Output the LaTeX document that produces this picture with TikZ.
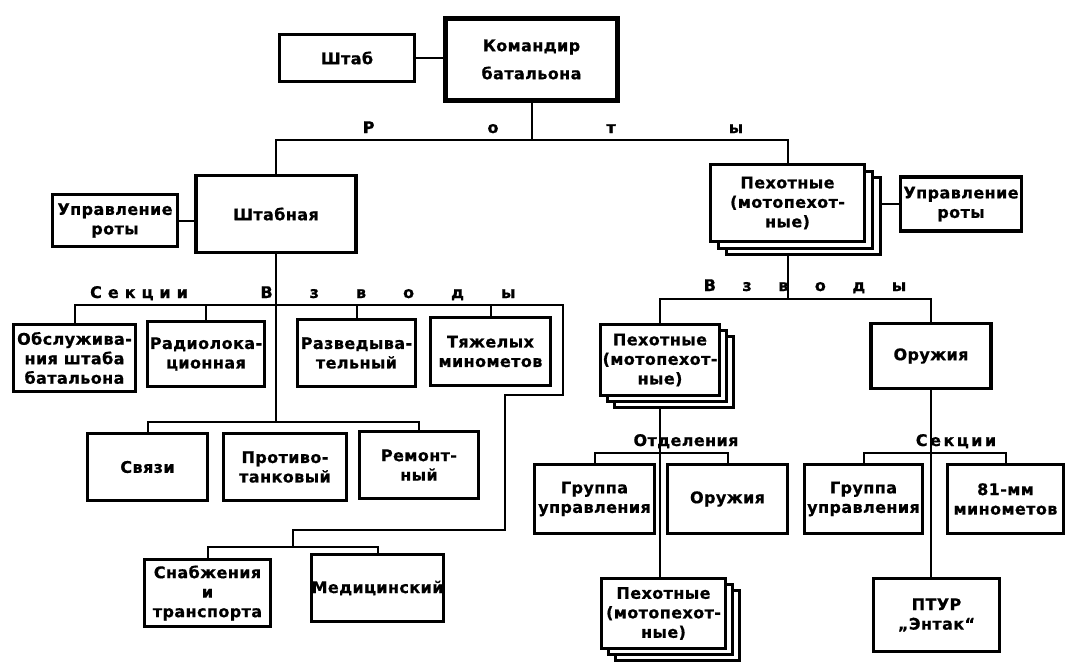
\documentclass[tikz,border=0pt]{standalone}
\usepackage{fontspec}
\newfontfamily\lbl{DejaVu Sans}[LetterSpace=2.5, BoldFeatures={FakeBold=0.7}]
\usetikzlibrary{shadows,backgrounds,calc}
\begin{document}
\begin{tikzpicture}[x=1pt,y=-1pt,
  txt/.style={font=\lbl\bfseries\fontsize{16}{19.5}\selectfont},
  box/.style={txt, draw, line width=3.4pt, fill=white, align=center, inner sep=0pt},
  stackA/.style={box, double copy shadow={shadow xshift=8pt, shadow yshift=-6.5pt, draw=black, fill=white, line width=3pt}},
  stackB/.style={box, double copy shadow={shadow xshift=7pt, shadow yshift=-6pt, draw=black, fill=white, line width=3pt}},
  conn/.style={line width=2pt},
  lab/.style={txt, inner sep=0pt, anchor=base}]
\useasboundingbox (0,0) rectangle (1068,664);

% ---------- boxes ----------
\node[box, minimum width=135pt, minimum height=47pt] (shtab) at (347,58) {Штаб};
\node[box, line width=4.6pt, minimum width=172pt, minimum height=82pt, font=\lbl\bfseries\fontsize{16}{28}\selectfont] (kmd) at (531.5,59.5) {Командир\\батальона};
\node[box, minimum width=160pt, minimum height=77pt] (shtabnaya) at (276,214) {Штабная};
\node[box, minimum width=125pt, minimum height=52pt] (upr1) at (115,220.5) {Управление\\роты};
\node[stackA, minimum width=154pt, minimum height=77pt] (peh1) at (787.5,203) {Пехотные\\(мотопехот-\\ные)};
\node[box, minimum width=121pt, minimum height=54pt] (upr2) at (961,204) {Управление\\роты};

\node[box, minimum width=122pt, minimum height=67pt] (obsl) at (74.5,358) {Обслужива-\\ния штаба\\батальона};
\node[box, minimum width=117pt, minimum height=65pt] (radio) at (206,354) {Радиолока-\\ционная};
\node[box, minimum width=118pt, minimum height=67pt] (razv) at (356.5,353) {Разведыва-\\тельный};
\node[box, minimum width=120pt, minimum height=68pt] (tyazh) at (490.5,351.5) {Тяжелых\\минометов};

\node[box, minimum width=120pt, minimum height=67pt] (svyazi) at (147.5,467) {Связи};
\node[box, minimum width=123pt, minimum height=67pt] (ptank) at (285,467) {Противо-\\танковый};
\node[box, minimum width=119pt, minimum height=67pt] (remont) at (419,465) {Ремонт-\\ный};

\node[box, minimum width=126pt, minimum height=67pt] (snab) at (207.5,593) {Снабжения\\и\\транспорта};
\node[box, minimum width=126pt, minimum height=67pt] (med) at (377.5,588) {Медицинский};

\node[stackB, minimum width=119pt, minimum height=71pt] (peh2) at (660,360) {Пехотные\\(мотопехот-\\ные)};
\node[box, minimum width=120pt, minimum height=65pt] (oruzh) at (931,356) {Оружия};

\node[box, minimum width=120pt, minimum height=69pt] (gu1) at (594.5,499) {Группа\\управления};
\node[box, minimum width=120pt, minimum height=69pt] (oruzh2) at (727.5,499) {Оружия};
\node[box, minimum width=118pt, minimum height=69pt] (gu2) at (863.5,499) {Группа\\управления};
\node[box, minimum width=116pt, minimum height=69pt] (m81) at (1005.5,499) {81-мм\\минометов};

\node[stackB, minimum width=124pt, minimum height=70pt] (peh3) at (663.5,613.5) {Пехотные\\(мотопехот-\\ные)};
\node[box, minimum width=126pt, minimum height=73pt] (ptur) at (936.5,615) {ПТУР\\„Энтак“};

% ---------- labels ----------
\node[lab] (lRoty) at (553,133) {Р\hskip113pt о\hskip108pt т\hskip113pt ы};
\node[lab] (lSekL) at (139,298) {С\hskip6pt е\hskip6pt к\hskip6pt ц\hskip6pt и\hskip6pt и};
\node[lab] (lVzL) at (388,298) {В\hskip37pt з\hskip37pt в\hskip37pt о\hskip37pt д\hskip37pt ы};
\node[lab] (lVzR) at (805,291) {В\hskip26.5pt з\hskip26.5pt в\hskip26.5pt о\hskip26.5pt д\hskip26.5pt ы};
\node[lab] (lOtd) at (686,446) {Отделения};
\node[lab] (lSekR) at (956,446) {С\hskip2.5pt е\hskip2.5pt к\hskip2.5pt ц\hskip2.5pt и\hskip2.5pt и};

% ---------- connectors ----------
\coordinate (yR) at (0,140);
\coordinate (yS) at (0,305);
\coordinate (yB2) at (0,422);
\coordinate (c1) at (563,305);
\coordinate (c2) at (563,395);
\coordinate (c3) at (505,395);
\coordinate (c4) at (505,530);
\coordinate (c5) at (293,530);
\coordinate (yB3) at (0,547);
\coordinate (yV) at (0,299);
\coordinate (yO) at (0,453);

\begin{scope}[on background layer]
\draw[conn] (shtab) -- (shtab -| kmd);
\draw[conn] (kmd) -- (kmd |- yR);
\draw[conn] (shtabnaya) -- (shtabnaya |- yR) -- (peh1 |- yR) -- (peh1);
\draw[conn] (upr1) -- (upr1 -| shtabnaya);
\draw[conn] (upr2) -- (upr2 -| peh1);

\draw[conn] (obsl) -- (obsl |- yS) -- (c1) -- (c2) -- (c3) -- (c4) -- (c5) -- (c5 |- yB3);
\draw[conn] (radio) -- (radio |- yS);
\draw[conn] (razv) -- (razv |- yS);
\draw[conn] (tyazh) -- (tyazh |- yS);
\draw[conn] (shtabnaya) -- (shtabnaya |- yB2);
\draw[conn] (svyazi) -- (svyazi |- yB2) -- (remont |- yB2) -- (remont);
\draw[conn] (snab) -- (snab |- yB3) -- (med |- yB3) -- (med);

\draw[conn] (peh1) -- (peh1 |- yV);
\draw[conn] (peh2) -- (peh2 |- yV) -- (oruzh |- yV) -- (oruzh);
\draw[conn] (gu1) -- (gu1 |- yO) -- (oruzh2 |- yO) -- (oruzh2);
\draw[conn] (gu2) -- (gu2 |- yO) -- (m81 |- yO) -- (m81);
\draw[conn] (peh2) -- (peh2 |- peh3.north);
\draw[conn] (oruzh) -- (oruzh |- ptur.north);
\end{scope}
\end{tikzpicture}
\end{document}
